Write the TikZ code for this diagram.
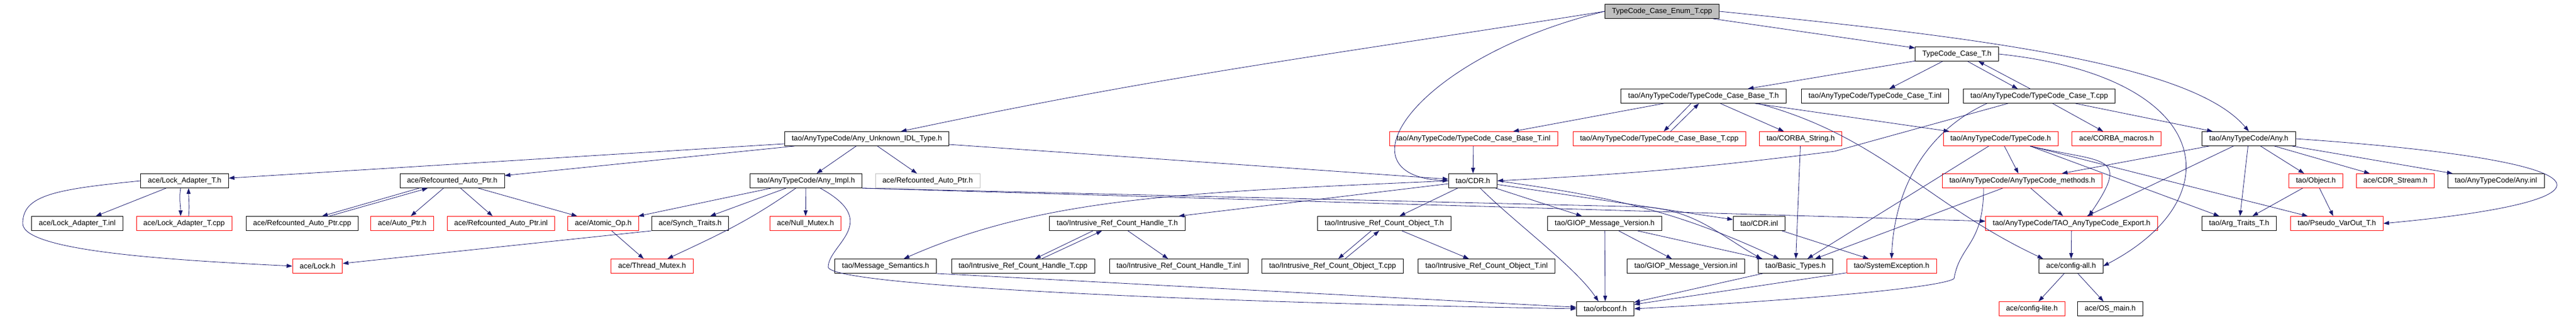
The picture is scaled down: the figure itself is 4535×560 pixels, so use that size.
\documentclass[tikz,border=0pt]{standalone}
\usepackage{fontspec}
\setmainfont{Liberation Sans}
\usetikzlibrary{arrows.meta}
\definecolor{edgeblue}{HTML}{191970}
\tikzset{
  incfile/.style={draw=black, line width=0.9pt, rectangle, minimum height=25pt, inner xsep=12.5pt, inner ysep=0pt, font=\fontsize{13}{15}\selectfont},
  truncfile/.style={incfile, draw=red},
  undocfile/.style={incfile, draw=gray!50},
  mainfile/.style={incfile, fill=gray!50},
  incl/.style={draw=edgeblue, line width=0.8pt, -{Triangle[length=10pt,width=7pt]}}
}

\begin{document}
\begin{tikzpicture}[x=1pt,y=1pt]
			%%%%% START %%%%%
			\useasboundingbox (0,0) rectangle (4535,560);
			
			\node[mainfile] (enum) at (2926,540) {TypeCode\_Case\_Enum\_T.cpp};
			\node[incfile] (caseTh) at (3445,465) {TypeCode\_Case\_T.h};
			
			\node[incfile] (baseTh) at (2999,391) {tao/AnyTypeCode/TypeCode\_Case\_Base\_T.h};
			\node[incfile] (caseTinl) at (3301,391) {tao/AnyTypeCode/TypeCode\_Case\_T.inl};
			\node[incfile] (caseTcpp) at (3590,391) {tao/AnyTypeCode/TypeCode\_Case\_T.cpp};
			
			\node[incfile] (unknown) at (1526,316) {tao/AnyTypeCode/Any\_Unknown\_IDL\_Type.h};
			\node[truncfile] (baseTinl) at (2594,316) {tao/AnyTypeCode/TypeCode\_Case\_Base\_T.inl};
			\node[truncfile] (baseTcpp) at (2921,316) {tao/AnyTypeCode/TypeCode\_Case\_Base\_T.cpp};
			\node[truncfile] (corbastr) at (3170,316) {tao/CORBA\_String.h};
			\node[truncfile] (typecode) at (3522,316) {tao/AnyTypeCode/TypeCode.h};
			\node[truncfile] (macros) at (3726,316) {ace/CORBA\_macros.h};
			\node[incfile] (anyh) at (3959,316) {tao/AnyTypeCode/Any.h};
			
			\node[incfile] (lockadapter) at (325,242) {ace/Lock\_Adapter\_T.h};
			\node[incfile] (refauto) at (796,242) {ace/Refcounted\_Auto\_Ptr.h};
			\node[incfile] (anyimpl) at (1419,242) {tao/AnyTypeCode/Any\_Impl.h};
			\node[undocfile] (refautogray) at (1633,242) {ace/Refcounted\_Auto\_Ptr.h};
			\node[incfile] (cdrh) at (2593,242) {tao/CDR.h};
			\node[truncfile] (methods) at (3560,242) {tao/AnyTypeCode/AnyTypeCode\_methods.h};
			\node[truncfile] (object) at (4077,242) {tao/Object.h};
			\node[truncfile] (cdrstream) at (4217,242) {ace/CDR\_Stream.h};
			\node[incfile] (anyinl) at (4394,242) {tao/AnyTypeCode/Any.inl};
			
			\node[incfile] (lockinl) at (136,167) {ace/Lock\_Adapter\_T.inl};
			\node[truncfile] (lockcpp) at (324,167) {ace/Lock\_Adapter\_T.cpp};
			\node[incfile] (refcpp) at (532,167) {ace/Refcounted\_Auto\_Ptr.cpp};
			\node[truncfile] (autoptr) at (708,167) {ace/Auto\_Ptr.h};
			\node[truncfile] (refinl) at (882,167) {ace/Refcounted\_Auto\_Ptr.inl};
			\node[truncfile] (atomic) at (1062,167) {ace/Atomic\_Op.h};
			\node[incfile] (synch) at (1215,167) {ace/Synch\_Traits.h};
			\node[truncfile] (nullmutex) at (1418,167) {ace/Null\_Mutex.h};
			\node[incfile] (handleh) at (1967,167) {tao/Intrusive\_Ref\_Count\_Handle\_T.h};
			\node[incfile] (objecth) at (2437,167) {tao/Intrusive\_Ref\_Count\_Object\_T.h};
			\node[incfile] (giop) at (2825,167) {tao/GIOP\_Message\_Version.h};
			\node[incfile] (cdrinl) at (3097,167) {tao/CDR.inl};
			\node[truncfile] (export) at (3647,167) {tao/AnyTypeCode/TAO\_AnyTypeCode\_Export.h};
			\node[incfile] (argtraits) at (3942,167) {tao/Arg\_Traits\_T.h};
			\node[truncfile] (pseudo) at (4114,167) {tao/Pseudo\_VarOut\_T.h};
			
			\node[truncfile] (lock) at (559,92) {ace/Lock.h};
			\node[truncfile] (threadmutex) at (1148,92) {ace/Thread\_Mutex.h};
			\node[incfile] (msgsem) at (1559,92) {tao/Message\_Semantics.h};
			\node[incfile] (handlecpp) at (1801,92) {tao/Intrusive\_Ref\_Count\_Handle\_T.cpp};
			\node[incfile] (handleinl) at (2075,92) {tao/Intrusive\_Ref\_Count\_Handle\_T.inl};
			\node[incfile] (objectcpp) at (2346,92) {tao/Intrusive\_Ref\_Count\_Object\_T.cpp};
			\node[incfile] (objectinl) at (2617,92) {tao/Intrusive\_Ref\_Count\_Object\_T.inl};
			\node[incfile] (giopinl) at (2968,92) {tao/GIOP\_Message\_Version.inl};
			\node[incfile] (basic) at (3161,92) {tao/Basic\_Types.h};
			\node[truncfile] (sysexc) at (3330,92) {tao/SystemException.h};
			\node[incfile] (configall) at (3646,92) {ace/config-all.h};
			
			\node[incfile] (orbconf) at (2826,17) {tao/orbconf.h};
			\node[truncfile] (configlite) at (3577,17) {ace/config-lite.h};
			\node[incfile] (osmain) at (3715,17) {ace/OS\_main.h};
			
			% top file
			\draw[incl] (enum) -- (caseTh);
			\draw[incl] (enum.east) .. controls +(450,-45) and +(-100,120) .. (anyh.north);
			\draw[incl] (enum.west) .. controls +(-330,-80) and +(-200,10) .. (cdrh.west);
			\draw[incl] (enum.west) .. controls +(-486,-77) and +(481,102) .. ([xshift=60pt]unknown.north);
			
			% TypeCode_Case_T
			\draw[incl] (caseTh) -- (baseTh);
			\draw[incl] (caseTh) -- (caseTinl);
			\draw[incl] ([xshift=19pt]caseTh.south) -- ([xshift=-38pt]caseTcpp.north);
			\draw[incl] ([xshift=-16pt]caseTcpp.north) -- ([xshift=38pt]caseTh.south);
			\draw[incl] (caseTh.east) .. controls +(380,-40) and +(230,120) .. (configall.east);
			\draw[incl] (caseTcpp) -- (macros);
			\draw[incl] (caseTcpp) -- (anyh);
			\draw[incl] ([xshift=-92pt]caseTcpp.south) .. controls +(-110,-50) and +(5,120) .. (sysexc.north);
			\draw[incl] ([xshift=-55pt]caseTcpp.south) -- (3230,294) .. controls +(-233,-29) and +(235,12) .. (cdrh.east);
			
			% TypeCode_Case_Base_T
			\draw[incl] (baseTh) -- (baseTinl);
			\draw[incl] ([xshift=-22pt]baseTh.south) -- ([xshift=8pt]baseTcpp.north);
			\draw[incl] ([xshift=20pt]baseTcpp.north) -- ([xshift=-8pt]baseTh.south);
			\draw[incl] (baseTh) -- (corbastr);
			\draw[incl] (baseTh) -- (typecode);
			\draw[incl] ([xshift=96pt]baseTh.south) .. controls +(216,-58) and +(-203,95) .. ([xshift=-49pt]configall.north);
			\draw[incl] (baseTinl) -- (cdrh);
			\draw[incl] (corbastr) -- (basic);
			
			% TypeCode and Any
			\draw[incl] (typecode) -- (methods);
			\draw[incl] ([xshift=52pt]typecode.south) .. controls +(130,-30) and +(75,110) .. ([xshift=30pt]export.north);
			\draw[incl] ([xshift=52pt]typecode.south) -- (argtraits);
			\draw[incl] ([xshift=52pt]typecode.south) -- (pseudo);
			\draw[incl] (typecode) -- (basic);
			\draw[incl] (methods) -- (export);
			\draw[incl] (methods) -- (basic);
			\draw[incl] ([xshift=-68pt]methods.south) .. controls +(0,-100) and +(10,60) .. (3440,70) .. controls +(-20,-15) and +(300,15) .. (orbconf.east);
			\draw[incl] (anyh) -- (methods);
			\draw[incl] (anyh) -- (export);
			\draw[incl] (anyh) -- (argtraits);
			\draw[incl] (anyh) -- (object);
			\draw[incl] (anyh) -- (cdrstream);
			\draw[incl] (anyh) -- (anyinl);
			\draw[incl] (anyh.east) .. controls +(580,-40) and +(430,40) .. (pseudo.east);
			\draw[incl] (object) -- (argtraits);
			\draw[incl] (object) -- (pseudo);
			\draw[incl] (export) -- (configall);
			\draw[incl] (configall) -- (configlite);
			\draw[incl] (configall) -- (osmain);
			
			% CDR
			\draw[incl] (cdrh) -- (objecth);
			\draw[incl] ([xshift=13pt]cdrh.south) .. controls +(60,-60) and +(-40,60) .. ([xshift=-12pt]orbconf.north);
			\draw[incl] (cdrh) -- (giop);
			\draw[incl] (cdrh) -- (cdrinl);
			\draw[incl] (cdrh.east) .. controls +(199,-28) and +(-182,85) .. ([xshift=-29pt]basic.north);
			\draw[incl] (cdrh) -- (handleh);
			\draw[incl] (cdrh.west) .. controls +(-450,-20) and +(250,110) .. ([xshift=32pt]msgsem.north);
			\draw[incl] ([xshift=-43pt]handleh.south) -- ([xshift=21pt]handlecpp.north);
			\draw[incl] ([xshift=33pt]handlecpp.north) -- ([xshift=-27pt]handleh.south);
			\draw[incl] (handleh) -- (handleinl);
			\draw[incl] ([xshift=-23pt]objecth.south) -- ([xshift=10pt]objectcpp.north);
			\draw[incl] ([xshift=22pt]objectcpp.north) -- ([xshift=-9pt]objecth.south);
			\draw[incl] (objecth) -- (objectinl);
			\draw[incl] (giop) -- (orbconf);
			\draw[incl] (giop) -- (giopinl);
			\draw[incl] (giop) -- (basic);
			\draw[incl] (cdrinl) -- (sysexc);
			\draw[incl] (basic) -- (orbconf);
			\draw[incl] (sysexc) -- (orbconf);
			\draw[incl] (msgsem.south east) -- (orbconf);
			
			% Any_Impl and Any_Unknown_IDL_Type
			\draw[incl] (anyimpl) -- (atomic);
			\draw[incl] (anyimpl) -- (synch);
			\draw[incl] ([xshift=-18pt]anyimpl.south) .. controls +(-83,-58) and +(92,43) .. ([xshift=27pt]threadmutex.north);
			\draw[incl] (anyimpl) -- (nullmutex);
			\draw[incl] ([xshift=25pt]anyimpl.south) .. controls +(110,-60) and +(0,40) .. (1458,90) .. controls +(10,-35) and +(-600,10) .. (orbconf.west);
			\draw[incl] (anyimpl.south east) -- ([yshift=4pt]export.west);
			\draw[incl] (anyimpl.south east) -- (2900,196) .. controls +(86,-8) and +(-75,43) .. ([xshift=-60pt]basic.north);
			\draw[incl] (unknown) -- (anyimpl);
			\draw[incl] (unknown) -- (refautogray);
			\draw[incl] (unknown) -- (cdrh);
			\draw[incl] (unknown) -- (lockadapter);
			\draw[incl] (unknown) -- (refauto);
			
			% ace side
			\draw[incl] ([xshift=-58pt]refauto.south) -- ([xshift=35pt]refcpp.north);
			\draw[incl] ([xshift=48pt]refcpp.north) -- ([xshift=-43pt]refauto.south);
			\draw[incl] (refauto) -- (autoptr);
			\draw[incl] (refauto) -- (refinl);
			\draw[incl] (refauto) -- (atomic);
			\draw[incl] (atomic) -- (threadmutex);
			\draw[incl] (synch.south west) -- (lock);
			\draw[incl] (lockadapter) -- (lockinl);
			\draw[incl] ([xshift=-7pt]lockadapter.south) .. controls +(-3,-20) and +(0,20) .. ([xshift=-6pt]lockcpp.north);
			\draw[incl] ([xshift=8pt]lockcpp.north) .. controls +(2,20) and +(0,-20) .. ([xshift=7pt]lockadapter.south);
			\draw[incl] (lockadapter.west) .. controls +(-150,-15) and +(0,50) .. (40,167) .. controls +(0,-50) and +(-200,10) .. (lock.west);
			%%%%% END %%%%%
\end{tikzpicture}
\end{document}
